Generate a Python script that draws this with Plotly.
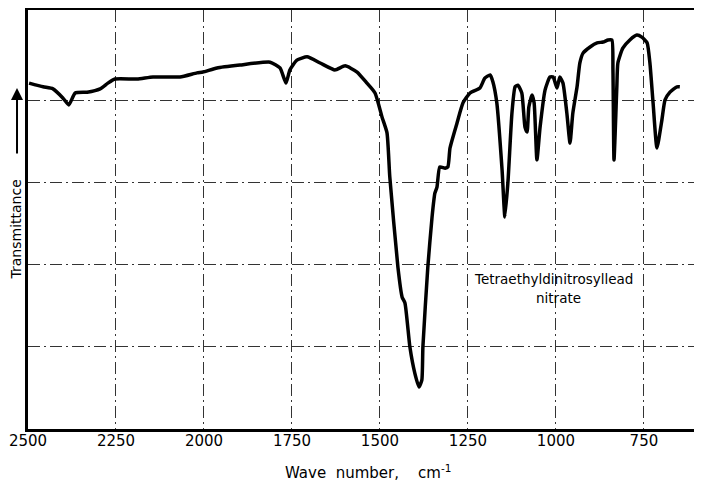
import plotly.graph_objects as go

# Wave number (cm^-1) and transmittance (arbitrary %)
wavenumber = [2497, 2457, 2429, 2401, 2384, 2366, 2332, 2295, 2273, 2253, 2190, 2145, 2068, 2020,
              2003, 1963, 1898, 1812, 1784, 1767, 1756, 1736, 1707, 1670, 1628, 1599, 1565, 1537,
              1514, 1494, 1480, 1472, 1449, 1437, 1429, 1415, 1401, 1389, 1381, 1378, 1364, 1352,
              1344, 1338, 1330, 1315, 1307, 1301, 1281, 1264, 1244, 1216, 1202, 1187, 1179, 1168,
              1153, 1145, 1136, 1125, 1116, 1108, 1097, 1088, 1082, 1077, 1068, 1062, 1054, 1045,
              1031, 1017, 1008, 997, 989, 980, 969, 960, 952, 940, 932, 923, 903, 883, 866, 852,
              841, 838, 835, 827, 824, 810, 790, 770, 756, 741, 733, 724, 713, 699, 690, 676, 656, 648]
transmittance = [84.2, 83.3, 82.8, 80.6, 78.9, 81.8, 82.0, 82.8, 84.2, 85.2, 85.2, 85.7, 85.7, 86.7,
                 86.9, 87.9, 88.6, 89.3, 87.9, 84.2, 87.4, 89.8, 90.6, 89.1, 87.4, 88.4, 86.9, 84.2,
                 81.8, 75.9, 72.1, 61.3, 39.4, 32.1, 30.7, 20.0, 13.6, 10.2, 11.9, 20.0, 39.4, 51.6,
                 57.4, 58.9, 63.8, 63.5, 63.8, 68.4, 74.5, 79.4, 81.8, 83.0, 85.4, 86.2, 84.5, 79.4,
                 63.0, 51.6, 60.6, 76.9, 83.3, 83.7, 81.8, 73.5, 72.3, 78.4, 81.3, 79.4, 65.5, 73.5,
                 82.5, 85.7, 85.7, 83.0, 85.7, 84.2, 76.9, 69.6, 76.9, 83.3, 89.1, 91.5, 93.0, 94.0,
                 94.2, 94.7, 94.7, 87.4, 65.5, 83.3, 89.1, 92.7, 94.7, 95.9, 95.4, 94.0, 89.1, 79.4,
                 68.4, 75.2, 80.1, 82.0, 83.3, 83.3]

x_ticks = [2500, 2250, 2000, 1750, 1500, 1250, 1000, 750]
x_ticklabels = ["2500", "2250", "2000", "1750", "1500", "1250", "1000", "750"]
y_grid = [20, 40, 60, 80]

compound_line1 = "Tetraethyldinitrosyllead"
compound_line2 = "nitrate"

FONT = "DejaVu Sans"
GRID_DASH = "12px,4px,2px,4px"

fig = go.Figure()
fig.add_trace(go.Scatter(
    x=wavenumber, y=transmittance, mode="lines",
    line=dict(color="black", width=3.5, shape="spline", smoothing=0.5),
    hoverinfo="skip", showlegend=False,
))

fig.update_layout(
    width=694, height=475,
    margin=dict(l=20, r=0, t=2, b=54),
    paper_bgcolor="white", plot_bgcolor="white",
    font=dict(family=FONT, color="black"),
    showlegend=False,
    xaxis=dict(
        range=[2500, 585], tickvals=x_ticks, ticktext=x_ticklabels,
        showgrid=True, gridcolor="#333333", gridwidth=1, griddash=GRID_DASH,
        showline=True, linecolor="black", linewidth=2.5, mirror=True,
        ticks="", tickfont=dict(size=15, family=FONT), zeroline=False,
        ticklabelstandoff=-4,
    ),
    yaxis=dict(
        range=[0, 102], tickvals=y_grid, showticklabels=False,
        showgrid=True, gridcolor="#333333", gridwidth=1, griddash=GRID_DASH,
        showline=True, linecolor="black", linewidth=2.5, mirror=False,
        ticks="", zeroline=False,
    ),
    annotations=[
        dict(text="Wave  number,    cm<sup>-1</sup>", xref="paper", yref="paper",
             x=0.504, y=-0.103, xanchor="center", yanchor="middle", showarrow=False,
             font=dict(size=15, family=FONT)),
        dict(text="Transmittance", xref="paper", yref="paper", textangle=-90,
             x=-0.0185, y=0.475, xanchor="center", yanchor="middle", showarrow=False,
             font=dict(size=14, family=FONT)),
        dict(text="", xref="paper", yref="paper", x=-0.0163, y=0.814,
             ax=0, ay=67, showarrow=True, arrowhead=2, arrowsize=1.2, arrowwidth=2,
             arrowcolor="black"),
        dict(text=compound_line1, x=1008, y=36.5, xref="x", yref="y", showarrow=False,
             xanchor="center", yanchor="middle", font=dict(size=13.5, family=FONT)),
        dict(text=compound_line2, x=994, y=31.9, xref="x", yref="y", showarrow=False,
             xanchor="center", yanchor="middle", font=dict(size=13.5, family=FONT)),
    ],
)

fig.write_html("out.html")
